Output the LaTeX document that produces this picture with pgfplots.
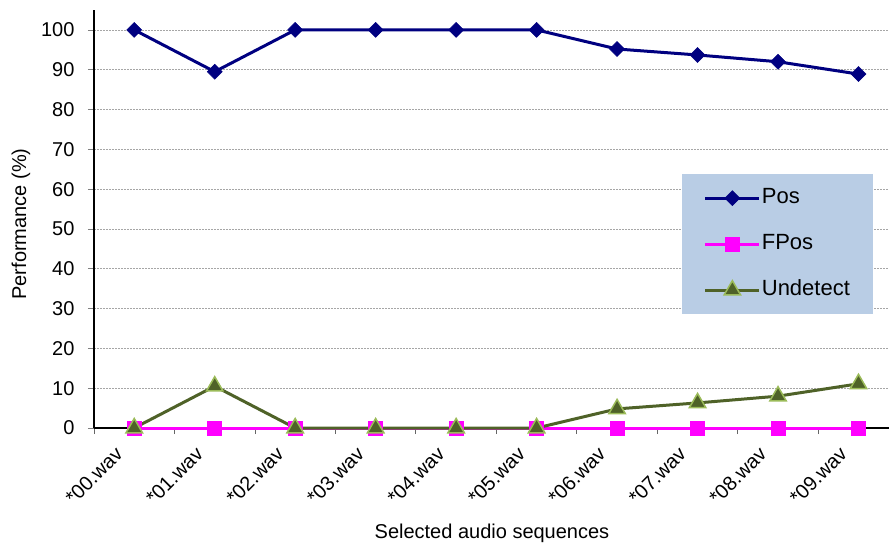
\documentclass[border=0pt]{standalone}
\usepackage{pgfplots}
\pgfplotsset{compat=1.18}
\usepackage{fontspec}
\setmainfont{Liberation Sans}
\usetikzlibrary{calc}
\definecolor{posc}{HTML}{000080}
\definecolor{fposc}{HTML}{FF00FF}
\definecolor{undc}{HTML}{4F6228}
\definecolor{undedge}{HTML}{9BBB59}
\definecolor{legbg}{HTML}{B9CDE5}
\definecolor{gridc}{HTML}{A6A6A6}
\newcommand\ff{\fontsize{20bp}{24bp}\selectfont}
\newcommand\lf{\fontsize{22bp}{26bp}\selectfont}
\begin{document}
\begin{tikzpicture}
\begin{axis}[
  name=ax,
  scale only axis,
  width=795bp, height=418bp,
  xmin=-0.5, xmax=9.379,
  ymin=0, ymax=105,
  axis lines*=left,
  axis line style={black, line width=1.2bp, -},
  tick align=outside,
  /pgf/number format/assume math mode=true,
  ytick={0,10,...,100},
  ymajorgrids,
  major grid style={gridc, line width=0.8bp, dash pattern=on 2bp off 1bp},
  major tick length=6bp,
  ytick style={gray, line width=0.8bp},
  yticklabel style={font=\ff, xshift=-10bp},
  xtick={-0.5,0.5,...,8.5},
  xticklabels={},
  xtick style={gray!80!black, line width=0.8bp},
  extra x ticks={0,1,...,9},
  extra x tick labels={*00.wav,*01.wav,*02.wav,*03.wav,*04.wav,*05.wav,*06.wav,*07.wav,*08.wav,*09.wav},
  extra x tick style={major tick length=0pt, grid=none},
  xticklabel style={font=\ff, inner sep=0pt, anchor=east, xshift=-15bp, yshift=-22.6bp, rotate=45},
  every axis y label/.style={at={(axis description cs:-0.0918,0.488)}, rotate=90, anchor=center, font=\ff},
  every axis x label/.style={at={(axis description cs:0.5006,-0.2512)}, anchor=center, font=\ff},
  ylabel={Performance (\%)},
  xlabel={Selected audio sequences},
  clip=false,
  legend style={at={(axis description cs:0.7392,0.6077)}, anchor=north west,
     fill=legbg, draw=none, font=\lf, inner xsep=22bp, inner ysep=13.25bp, row sep=24.5bp,
     nodes={text height=15bp, text depth=4.5bp, inner sep=1bp, text width=88bp}},
  legend cell align=left,
  legend image code/.code={\draw[mark repeat=2,mark phase=2] plot coordinates {(0bp,0bp)(27bp,0bp)(54bp,0bp)};},
]
\addplot[posc, line width=3bp, mark=square*, mark size=5.3bp, mark options={rotate=45, solid, fill=posc, line width=0.5bp}]
  coordinates {(0,100)(1,89.5)(2,100)(3,100)(4,100)(5,100)(6,95.2)(7,93.7)(8,92.0)(9,88.9)};
\addlegendentry{Pos}
\addplot[fposc, line width=3bp, mark=square*, mark size=7bp, mark options={solid, fill=fposc, line width=0.5bp}]
  coordinates {(0,0)(1,0)(2,0)(3,0)(4,0)(5,0)(6,0)(7,0)(8,0)(9,0)};
\addlegendentry{FPos}
\addplot[undc, line width=3bp, mark=triangle*, mark size=9.5bp, mark options={solid, fill=undc, draw=undedge, line width=1.5bp}]
  coordinates {(0,0)(1,10.5)(2,0)(3,0)(4,0)(5,0)(6,4.8)(7,6.3)(8,8.0)(9,11.1)};
\addlegendentry{Undetect}
\path (rel axis cs:0,0) coordinate (SW) (rel axis cs:1,1) coordinate (NE);
\end{axis}
\pgfresetboundingbox
\path[use as bounding box] ($(SW)+(-94bp,-117bp)$) rectangle ($(NE)+(0bp,10bp)$);
\end{tikzpicture}
\end{document}
